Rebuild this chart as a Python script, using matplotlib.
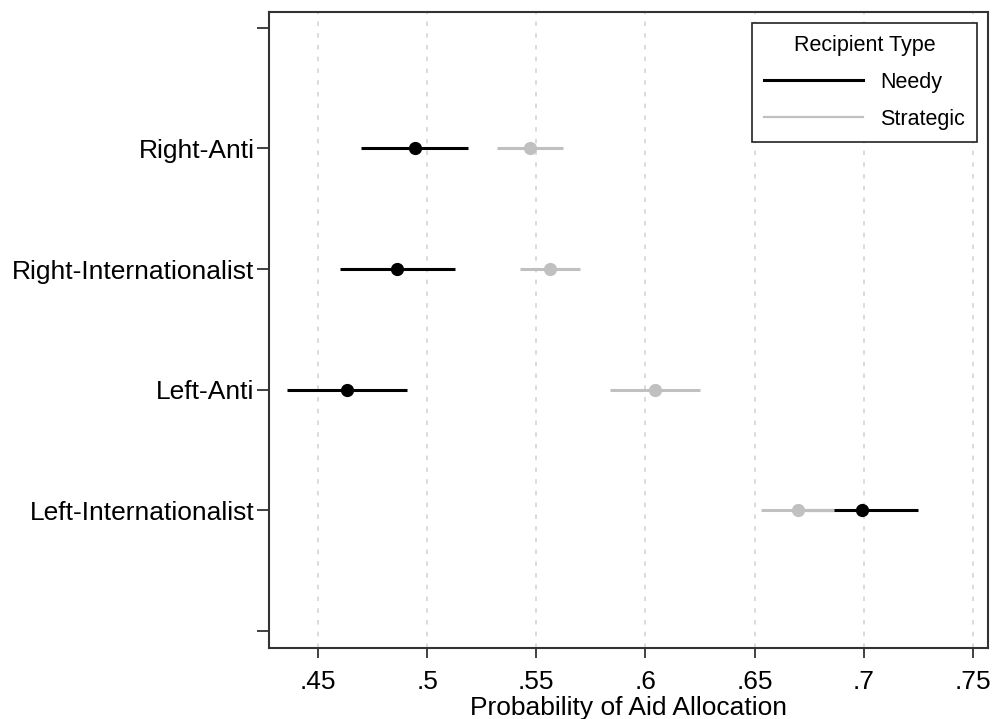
import matplotlib.pyplot as plt
import numpy as np

plt.rcParams['font.family'] = ['Liberation Sans', 'DejaVu Sans']

# groups from top to bottom
groups = ['Right-Anti', 'Right-Internationalist', 'Left-Anti', 'Left-Internationalist']

# needy recipients: point estimate and CI
needy_est = [0.4944, 0.4862, 0.4633, 0.6992]
needy_lo = [0.4697, 0.4600, 0.4360, 0.6735]
needy_hi = [0.5187, 0.5128, 0.4908, 0.7249]

# strategic recipients
strat_est = [0.5471, 0.5563, 0.6044, 0.6699]
strat_lo = [0.5320, 0.5425, 0.5838, 0.6529]
strat_hi = [0.5622, 0.5700, 0.6250, 0.6864]

xticks = [0.45, 0.5, 0.55, 0.6, 0.65, 0.7, 0.75]
xticklabels = ['.45', '.5', '.55', '.6', '.65', '.7', '.75']

black = '#000000'
grey = '#c0c0c0'

fig = plt.figure(figsize=(9.93, 7.19), dpi=100)
ax = fig.add_axes([0.2709, 0.0987, 0.995 - 0.2709, 0.9833 - 0.0987])

ypos = np.arange(1, len(groups) + 1)

for x in xticks:
    ax.axvline(x, color='#d8d8d8', lw=1.3, ls=(0, (2.5, 4)), zorder=0)

ax.hlines(ypos, needy_lo, needy_hi, color=black, lw=2.2, zorder=2)
ax.plot(needy_est, ypos, 'o', color=black, ms=8.5, zorder=3)
ax.hlines(ypos, strat_lo, strat_hi, color=grey, lw=2.2, zorder=4)
ax.plot(strat_est, ypos, 'o', color=grey, ms=8.5, zorder=5)

ax.set_xlim(0.4276, 0.7569)
ax.set_ylim(5.14, -0.13)
ax.set_xticks(xticks)
ax.set_xticklabels(xticklabels)
ax.set_yticks([0] + list(ypos) + [5])
ax.set_yticklabels([''] + groups + [''])
ax.tick_params(axis='y', length=8.5, width=1.3, pad=2, labelsize=19, color='#333333')
ax.tick_params(axis='x', length=7.5, width=1.3, pad=8, labelsize=19, color='#333333')
ax.set_xlabel('Probability of Aid Allocation', fontsize=19, labelpad=2)

for s in ax.spines.values():
    s.set_linewidth(1.5)
    s.set_color('#333333')

h1, = ax.plot([], [], color=black, lw=2.2)
h2, = ax.plot([], [], color=grey, lw=1.6)
leg = ax.legend([h1, h2], ['Needy', 'Strategic'], title='Recipient Type',
                loc='upper right', fontsize=15.5, title_fontsize=15.5,
                handlelength=4.6, handletextpad=0.8, borderaxespad=0.5,
                fancybox=False, framealpha=1, borderpad=0.55, labelspacing=0.75,
                alignment='center')
leg.get_frame().set_edgecolor('#222222')
leg.get_frame().set_linewidth(1.2)

fig.savefig('out.png', dpi=100)
